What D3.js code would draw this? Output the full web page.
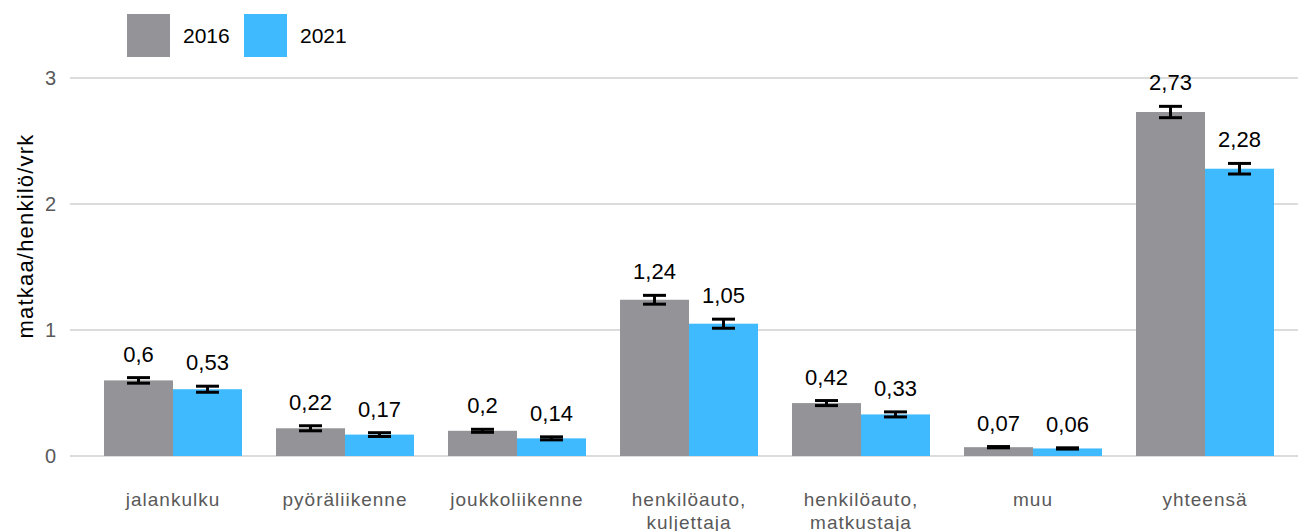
<!DOCTYPE html>
<html>
<head>
<meta charset="utf-8">
<script src="https://cdn.jsdelivr.net/npm/d3@7"></script>
<style>
  body { margin: 0; background: #fff; }
  svg { font-family: "Liberation Sans", Arial, sans-serif; }
</style>
</head>
<body>
<svg width="1298" height="531"></svg>
<script>
// data
const categories = ['jalankulku', 'pyöräliikenne', 'joukkoliikenne', 'henkilöauto, kuljettaja', 'henkilöauto, matkustaja', 'muu', 'yhteensä'];
const years = ['2016', '2021'];
const values2016 = [0.6, 0.22, 0.2, 1.24, 0.42, 0.07, 2.73];
const values2021 = [0.53, 0.17, 0.14, 1.05, 0.33, 0.06, 2.28];
const err2016 = [0.022, 0.02, 0.012, 0.035, 0.02, 0.005, 0.045];
const err2021 = [0.024, 0.015, 0.012, 0.036, 0.02, 0.005, 0.042];
const yTicks = [0, 1, 2, 3];
const fmt = d => String(d).replace('.', ',');

let svg = d3.select('svg');
let colors = d3.scaleOrdinal().domain(years).range(['#949398', '#40baff']);

let x0 = d3.scaleBand().domain(categories).range([87, 1291]).paddingInner(0).paddingOuter(0);
let x1 = d3.scaleBand().domain(years).range([17, x0.bandwidth() - 17]);
let y = d3.scaleLinear().domain([0, 3]).range([456, 78]);

// gridlines
svg.append('g')
  .selectAll('line')
  .data(yTicks)
  .join('line')
  .attr('x1', 70).attr('x2', 1298)
  .attr('y1', d => y(d)).attr('y2', d => y(d))
  .attr('stroke', '#dcdcdc').attr('stroke-width', 2);

// y tick labels
svg.append('g')
  .selectAll('text')
  .data(yTicks)
  .join('text')
  .attr('x', 56).attr('y', d => y(d))
  .attr('dy', '0.35em')
  .attr('text-anchor', 'end')
  .attr('font-size', 20)
  .attr('fill', '#595959')
  .text(d => d);

// y title
svg.append('text')
  .attr('transform', 'translate(33,236) rotate(-90)')
  .attr('text-anchor', 'middle')
  .attr('font-size', 22)
  .attr('letter-spacing', 1.2)
  .attr('fill', '#000')
  .text('matkaa/henkilö/vrk');

let rows = categories.map((c, i) => ({
  cat: c,
  items: [
    {year: '2016', v: values2016[i], e: err2016[i]},
    {year: '2021', v: values2021[i], e: err2021[i]}
  ]
}));

let groups = svg.append('g')
  .selectAll('g')
  .data(rows)
  .join('g')
  .attr('transform', d => `translate(${x0(d.cat)},0)`);

groups.selectAll('rect')
  .data(d => d.items)
  .join('rect')
  .attr('x', d => x1(d.year))
  .attr('width', x1.bandwidth())
  .attr('y', d => y(d.v))
  .attr('height', d => y(0) - y(d.v))
  .attr('fill', d => colors(d.year));

// error bars
let eb = groups.selectAll('g.err')
  .data(d => d.items)
  .join('g')
  .attr('class', 'err')
  .attr('stroke', '#000')
  .attr('stroke-width', 3);

let cx = d => x1(d.year) + x1.bandwidth() / 2;
eb.append('line')
  .attr('x1', cx).attr('x2', cx)
  .attr('y1', d => y(d.v + d.e)).attr('y2', d => y(d.v - d.e));
eb.append('line')
  .attr('x1', d => cx(d) - 11.5).attr('x2', d => cx(d) + 11.5)
  .attr('y1', d => y(d.v + d.e)).attr('y2', d => y(d.v + d.e));
eb.append('line')
  .attr('x1', d => cx(d) - 11.5).attr('x2', d => cx(d) + 11.5)
  .attr('y1', d => y(d.v - d.e)).attr('y2', d => y(d.v - d.e));

// value labels
groups.selectAll('text.val')
  .data(d => d.items)
  .join('text')
  .attr('class', 'val')
  .attr('x', cx)
  .attr('y', d => y(d.v + d.e) - 16)
  .attr('text-anchor', 'middle')
  .attr('font-size', 22)
  .attr('fill', '#000')
  .text(d => fmt(d.v));

// category labels
groups.append('text')
  .attr('x', x0.bandwidth() / 2)
  .attr('y', 506)
  .attr('text-anchor', 'middle')
  .attr('font-size', 19)
  .attr('letter-spacing', 1)
  .attr('fill', '#595959')
  .each(function(d) {
    let parts = d.cat.split(' ');
    let t = d3.select(this);
    if (parts.length === 1) {
      t.text(d.cat);
    } else {
      t.append('tspan').attr('x', x0.bandwidth() / 2).text(parts[0]);
      t.append('tspan').attr('x', x0.bandwidth() / 2).attr('dy', 23).text(parts.slice(1).join(' '));
    }
  });

// legend
let legend = svg.append('g')
  .selectAll('g')
  .data(years)
  .join('g')
  .attr('transform', (d, i) => `translate(${127 + i * 117},14)`);
legend.append('rect')
  .attr('width', 43).attr('height', 43)
  .attr('fill', d => colors(d));
legend.append('text')
  .attr('x', 56).attr('y', 22)
  .attr('dy', '0.35em')
  .attr('font-size', 21)
  .attr('fill', '#000')
  .text(d => d);
</script>
</body>
</html>
